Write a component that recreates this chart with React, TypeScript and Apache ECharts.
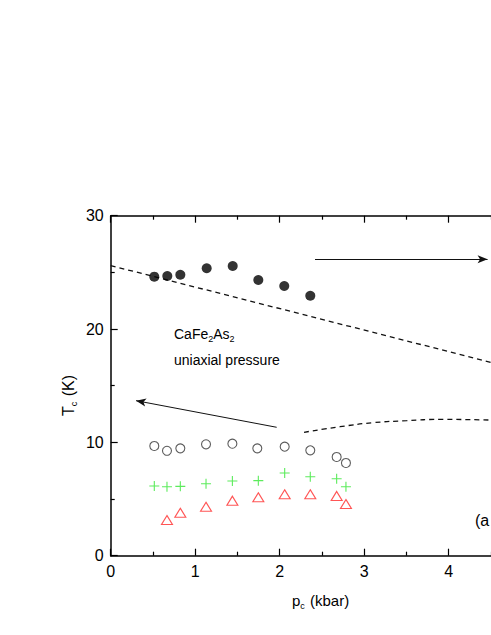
import React, { useEffect, useRef } from "react";
import * as echarts from "echarts";

// Filled circles (upper data set)
const filledX = [0.516, 0.67, 0.824, 1.136, 1.444, 1.747, 2.054, 2.362];
const filledY = [24.62, 24.68, 24.79, 25.36, 25.56, 24.33, 23.8, 22.94];

// Open circles
const openX = [0.516, 0.666, 0.824, 1.128, 1.44, 1.735, 2.059, 2.362, 2.674, 2.784];
const openY = [9.68, 9.26, 9.47, 9.83, 9.88, 9.47, 9.62, 9.3, 8.71, 8.18];

// Green crosses
const plusX = [0.516, 0.666, 0.824, 1.128, 1.44, 1.747, 2.059, 2.362, 2.674, 2.784];
const plusY = [6.15, 6.09, 6.12, 6.35, 6.59, 6.62, 7.3, 6.97, 6.79, 6.09];

// Red triangles
const triX = [0.666, 0.824, 1.128, 1.44, 1.747, 2.059, 2.362, 2.674, 2.784];
const triY = [3.15, 3.79, 4.32, 4.85, 5.15, 5.42, 5.42, 5.27, 4.56];

// Dashed guide lines
const dash1X = [0, 4.5];
const dash1Y = [25.6, 17.06];
const dash2X = [2.288, 2.714, 3.108, 3.503, 3.897, 4.489];
const dash2Y = [10.89, 11.38, 11.74, 11.91, 12.03, 11.97];

// Arrows [x1, y1, x2, y2] (from -> to)
const arrowLeft = [1.964, 11.33, 0.3, 13.68];
const arrowRight = [2.418, 26.15, 4.46, 26.15];

const yTicks = [0, 10, 20, 30];
const xTicks = [0, 1, 2, 3, 4];

const zip = (xs: number[], ys: number[]) => xs.map((x, i) => [x, ys[i]]);

const FONT = "'Liberation Sans', Arial, Helvetica, sans-serif";

export default function App() {
  const ref = useRef<HTMLDivElement>(null);
  useEffect(() => {
    if (!ref.current) return;
    const chart = echarts.init(ref.current, null, { renderer: "svg" });
    const gridLeft = 110.7;
    const gridTop = 215.7;
    const pxPerX = 84.5;
    const xMax = 5.5;
    const axisCommon = {
      axisLine: { show: true, onZero: false, lineStyle: { color: "#000", width: 1.5 } },
      axisTick: { show: true, inside: true, length: 7, lineStyle: { color: "#000", width: 1.2 } },
      minorTick: { show: true, splitNumber: 2, length: 4, lineStyle: { color: "#000", width: 1.2 } },
      splitLine: { show: false },
    };
    const xLabelMax = xTicks[xTicks.length - 1];
    chart.setOption({
      animation: false,
      textStyle: { fontFamily: FONT },
      grid: { left: gridLeft, top: gridTop, width: pxPerX * xMax, height: 340 },
      xAxis: [
        {
          type: "value",
          min: xTicks[0],
          max: xMax,
          interval: 1,
          position: "bottom",
          ...axisCommon,
          axisLabel: {
            color: "#000",
            fontSize: 16,
            margin: 8,
            fontFamily: FONT,
            formatter: (v: number) => (v <= xLabelMax ? String(v) : ""),
          },
        },
        {
          type: "value",
          min: xTicks[0],
          max: xMax,
          interval: 1,
          position: "top",
          ...axisCommon,
          axisLabel: { show: false },
        },
      ],
      yAxis: [
        {
          type: "value",
          min: yTicks[0],
          max: yTicks[yTicks.length - 1],
          interval: 10,
          position: "left",
          ...axisCommon,
          axisLabel: { color: "#000", fontSize: 16, margin: 7, fontFamily: FONT },
        },
        {
          type: "value",
          min: yTicks[0],
          max: yTicks[yTicks.length - 1],
          interval: 10,
          position: "right",
          ...axisCommon,
          axisLabel: { show: false },
        },
      ],
      series: [
        {
          type: "line",
          data: zip(dash1X, dash1Y),
          showSymbol: false,
          symbol: "none",
          lineStyle: { color: "#111", width: 1.3, type: [5, 4] },
          z: 1,
        },
        {
          type: "line",
          data: zip(dash2X, dash2Y),
          showSymbol: false,
          symbol: "none",
          smooth: true,
          lineStyle: { color: "#111", width: 1.3, type: [5, 4] },
          z: 1,
        },
        {
          type: "scatter",
          data: zip(filledX, filledY),
          symbol: "circle",
          symbolSize: 10,
          itemStyle: { color: "#000" },
          markLine: {
            silent: true,
            symbol: ["none", "arrow"],
            symbolSize: [6, 10],
            label: { show: false },
            lineStyle: { color: "#111", width: 1, type: "solid" },
            data: [
              [
                { coord: [arrowLeft[0], arrowLeft[1]] },
                { coord: [arrowLeft[2], arrowLeft[3]] },
              ],
              [
                { coord: [arrowRight[0], arrowRight[1]] },
                { coord: [arrowRight[2], arrowRight[3]] },
              ],
            ],
          },
        },
        {
          type: "scatter",
          data: zip(openX, openY),
          symbol: "circle",
          symbolSize: 9,
          itemStyle: { color: "#fff", borderColor: "#333", borderWidth: 1.1 },
        },
        {
          type: "scatter",
          data: zip(plusX, plusY),
          symbol: "path://M4.45,0h1.1v4.45h4.45v1.1h-4.45v4.45h-1.1v-4.45h-4.45v-1.1h4.45z",
          symbolSize: 10,
          itemStyle: { color: "#33e633" },
        },
        {
          type: "scatter",
          data: zip(triX, triY),
          symbol: "triangle",
          symbolSize: [11, 9],
          itemStyle: { color: "#fff", borderColor: "#ff2a2a", borderWidth: 1.1 },
        },
      ],
      graphic: [
        {
          type: "text",
          left: 174,
          top: 327,
          style: {
            text: "CaFe{sub|2}As{sub|2}",
            fill: "#000",
            font: `14px ${FONT}`,
            rich: {
              sub: { fontSize: 9, verticalAlign: "bottom", padding: [9, 0, 0, 0], fill: "#000" },
            },
          },
        },
        {
          type: "text",
          left: 174,
          top: 353,
          style: { text: "uniaxial pressure", fill: "#000", font: `14px ${FONT}` },
        },
        {
          type: "text",
          x: 292,
          y: 600,
          style: {
            text: "p{sub|c} (kbar)",
            fill: "#000",
            font: `15px ${FONT}`,
            verticalAlign: "middle",
            rich: {
              sub: { fontSize: 9, padding: [11, 1, 0, 0], fill: "#000" },
            },
          },
        },
        {
          type: "text",
          x: 68,
          y: 416,
          rotation: Math.PI / 2,
          style: {
            text: "T{sub|c} (K)",
            fill: "#000",
            font: `16px ${FONT}`,
            verticalAlign: "middle",
            rich: {
              sub: { fontSize: 9, padding: [11, 1, 0, 0], fill: "#000" },
            },
          },
        },
        {
          type: "text",
          x: 475,
          y: 520,
          style: { text: "(a", fill: "#000", font: `16px ${FONT}`, verticalAlign: "middle" },
        },
      ],
    });
    return () => chart.dispose();
  }, []);
  return (
    <div
      style={{
        position: "absolute",
        left: 0,
        top: 0,
        width: 491,
        height: 635,
        overflow: "hidden",
        background: "#fff",
      }}
    >
      <div ref={ref} style={{ width: 640, height: 635 }} />
    </div>
  );
}
